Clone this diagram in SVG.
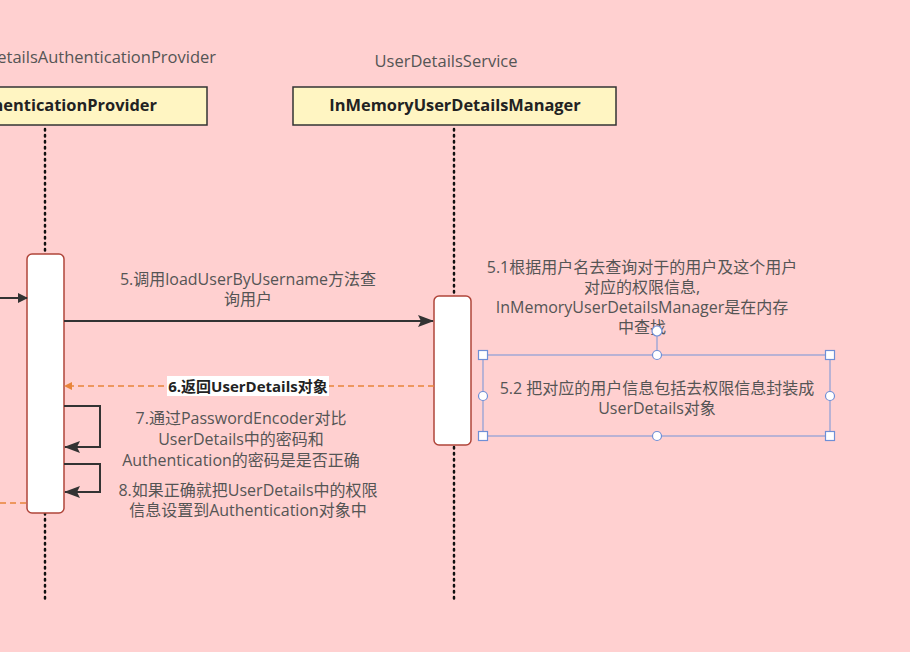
<svg xmlns="http://www.w3.org/2000/svg" width="910" height="652" viewBox="0 0 910 652">
<defs>
<style>
.t{font-family:"Open Sans","Noto Sans CJK SC",sans-serif;fill:#555;font-size:16px;text-anchor:middle}
.h{font-family:"Open Sans","Noto Sans CJK SC",sans-serif;fill:#555;font-size:16.5px;text-anchor:middle}
.b{font-family:"Open Sans","Noto Sans CJK SC",sans-serif;fill:#222;font-size:16.4px;font-weight:bold;text-anchor:middle}
.hdr{fill:#fff5c2;stroke:#333;stroke-width:1.5}
.act{fill:#fff;stroke:#b0453a;stroke-width:1.5}
.life{stroke:#111;stroke-width:2.5;stroke-dasharray:1.5 4.5;stroke-linecap:round}
.msg{stroke:#333;stroke-width:2;fill:none}
.ret{stroke:#e8843a;stroke-width:1.5;stroke-dasharray:6 4;fill:none}
.sel{fill:none;stroke:#8a9ed8;stroke-width:1.2}
.hd{fill:#fff;stroke:#6f8fd6;stroke-width:1.2}
</style>
<marker id="ah" markerWidth="10" markerHeight="10" refX="9" refY="5" orient="auto" markerUnits="userSpaceOnUse" viewBox="0 0 10 10"><path d="M0,0 L10,5 L0,10 Z" fill="#333"/></marker>
<marker id="ahb" markerWidth="16" markerHeight="12" refX="15" refY="6" orient="auto" markerUnits="userSpaceOnUse" viewBox="0 0 16 12"><path d="M0,0 L16,6 L0,12 L3,6 Z" fill="#333"/></marker>
<marker id="ao" markerWidth="8" markerHeight="8" refX="7" refY="4" orient="auto" markerUnits="userSpaceOnUse" viewBox="0 0 8 8"><path d="M0,0 L8,4 L0,8 Z" fill="#e8843a"/></marker>
</defs>
<rect width="910" height="652" fill="#ffd0d0"/>

<g id="provider">
<text class="h" x="216" y="63" style="text-anchor:end">etailsAuthenticationProvider</text>
<rect class="hdr" x="-10" y="87" width="217" height="38"/>
<text class="b" x="157" y="111" style="text-anchor:end">henticationProvider</text>
<line class="life" x1="45" y1="129" x2="45" y2="603"/>
<rect class="act" x="27" y="254" width="37" height="259" rx="5"/>
</g>

<g id="service">
<text class="h" x="446" y="67">UserDetailsService</text>
<rect class="hdr" x="293" y="87" width="323" height="38"/>
<text class="b" x="455" y="111">InMemoryUserDetailsManager</text>
<line class="life" x1="454" y1="129" x2="454" y2="603"/>
<rect class="act" x="434" y="296" width="37" height="149" rx="5"/>
</g>

<g id="connectors">
<line class="msg" x1="0" y1="298" x2="27" y2="298" marker-end="url(#ah)"/>
<line class="msg" x1="64" y1="321" x2="433" y2="321" marker-end="url(#ahb)"/>
<line class="ret" x1="434" y1="386" x2="65" y2="386" marker-end="url(#ao)"/>
<polyline class="msg" points="64,406 100,406 100,447 65,447" marker-end="url(#ahb)"/>
<polyline class="msg" points="64,464 100,464 100,492 65,492" marker-end="url(#ahb)"/>
<line class="ret" x1="0" y1="503" x2="30" y2="503"/>
</g>

<g id="labels">
<text class="t" x="248" y="285">5.调用loadUserByUsername方法查</text>
<text class="t" x="248" y="305">询用户</text>
<rect x="167" y="376" width="162" height="20" fill="#fff"/>
<text class="t" x="248" y="391.5" style="font-weight:bold;fill:#222;font-size:15px">6.返回UserDetails对象</text>
<text class="t" x="241" y="424">7.通过PasswordEncoder对比</text>
<text class="t" x="241" y="445">UserDetails中的密码和</text>
<text class="t" x="241" y="466">Authentication的密码是是否正确</text>
<text class="t" x="248" y="496">8.如果正确就把UserDetails中的权限</text>
<text class="t" x="248" y="516">信息设置到Authentication对象中</text>
</g>

<g id="note51">
<text class="t" x="642" y="273">5.1根据用户名去查询对于的用户及这个用户</text>
<text class="t" x="642" y="293">对应的权限信息,</text>
<text class="t" x="642" y="313">InMemoryUserDetailsManager是在内存</text>
<text class="t" x="642" y="333">中查找</text>
</g>

<g id="note52">
<text class="t" x="657" y="394">5.2 把对应的用户信息包括去权限信息封装成</text>
<text class="t" x="657" y="414">UserDetails对象</text>
<rect class="sel" x="483" y="355" width="347" height="81"/>
<line class="sel" x1="657" y1="331" x2="657" y2="355"/>
<circle class="hd" cx="657" cy="331" r="5"/>
<rect class="hd" x="478.5" y="350.5" width="9" height="9"/>
<rect class="hd" x="825.5" y="350.5" width="9" height="9"/>
<rect class="hd" x="478.5" y="431.5" width="9" height="9"/>
<rect class="hd" x="825.5" y="431.5" width="9" height="9"/>
<circle class="hd" cx="657" cy="355" r="4.5"/>
<circle class="hd" cx="657" cy="436" r="4.5"/>
<circle class="hd" cx="483" cy="396" r="4.5"/>
<circle class="hd" cx="830" cy="396" r="4.5"/>
</g>
</svg>
